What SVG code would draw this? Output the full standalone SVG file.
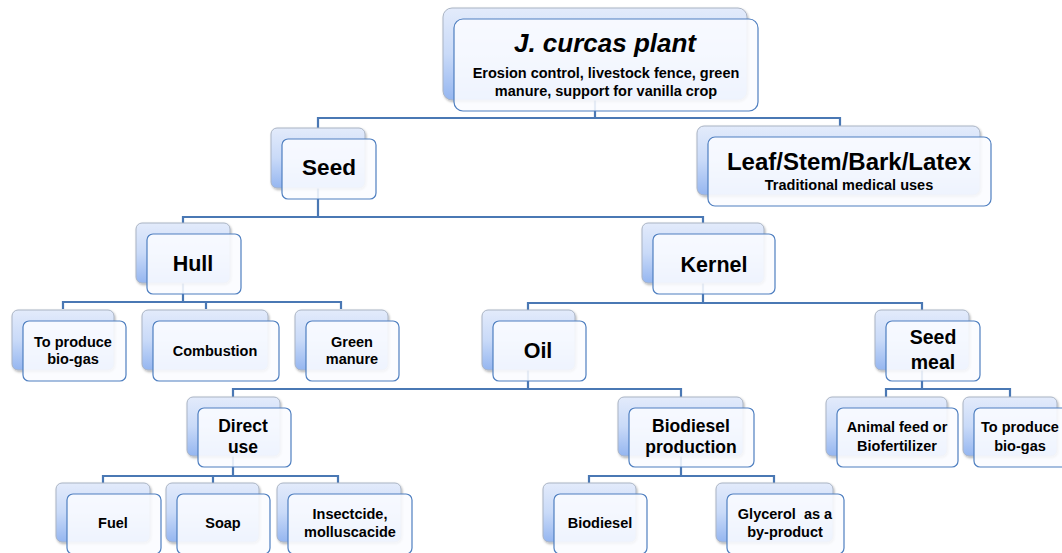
<svg xmlns="http://www.w3.org/2000/svg" width="1062" height="553" viewBox="0 0 1062 553">
<defs>
<linearGradient id="bg" x1="0" y1="0" x2="0" y2="1">
<stop offset="0" stop-color="#e3ebfb"/>
<stop offset="0.5" stop-color="#c9daf8"/>
<stop offset="1" stop-color="#95b6f0"/>
</linearGradient>
<filter id="sh" x="-10%" y="-10%" width="130%" height="130%">
<feDropShadow dx="1" dy="1.5" stdDeviation="1.2" flood-color="#000" flood-opacity="0.3"/>
</filter>
<style>
.b{fill:url(#bg);stroke:#aab4c4;stroke-width:1;filter:url(#sh)}
.f{fill:#fbfcff;fill-opacity:0.88;stroke:#4f7fc0;stroke-width:1.2}
.c{fill:none;stroke:#4a78b4;stroke-width:2.2}
text{font-family:"Liberation Sans",Arial,sans-serif;font-weight:bold;fill:#000;text-anchor:middle}
.s{font-size:14.5px}
.m{font-size:17.5px}
.l{font-size:21.5px}
</style>
</defs>
<rect width="1062" height="553" fill="#fff"/>
<g id="connectors">
<path class="c" d="M595,100V118M318,128V118H840V126"/>
<path class="c" d="M318,188V217M183,223V217H703V223"/>
<path class="c" d="M183,283V302M63,309V302H341V309M206,302V309"/>
<path class="c" d="M703,283V303M528,310V303H922V310"/>
<path class="c" d="M528,370V389M233,397V389H681V397"/>
<path class="c" d="M922,370V389M886,397V389H1010V397"/>
<path class="c" d="M233,456V476M103,483V476H338V483M213,476V483"/>
<path class="c" d="M681,456V476M589,483V476H774V483"/>
</g>
<g id="n-plant">
<rect class="b" x="443" y="8" width="304" height="92" rx="9"/>
<rect class="f" x="454" y="19" width="304" height="92" rx="9"/>
<text x="605" y="52" font-size="26" font-style="italic">J. curcas plant</text>
<text class="s" x="606" y="78">Erosion control, livestock fence, green</text>
<text class="s" x="606" y="96">manure, support for vanilla crop</text>
</g>
<g id="n-seed">
<rect class="b" x="271" y="128" width="94" height="60" rx="6"/>
<rect class="f" x="282" y="139" width="94" height="60" rx="6"/>
<text x="329" y="175" font-size="22.5">Seed</text>
</g>
<g id="n-leaf">
<rect class="b" x="697" y="126" width="283" height="69" rx="7"/>
<rect class="f" x="708" y="137" width="283" height="69" rx="7"/>
<text x="849" y="170" font-size="24">Leaf/Stem/Bark/Latex</text>
<text class="s" x="849" y="190">Traditional medical uses</text>
</g>
<g id="n-hull">
<rect class="b" x="136" y="223" width="94" height="60" rx="6"/>
<rect class="f" x="147" y="234" width="94" height="60" rx="6"/>
<text class="l" x="193" y="271">Hull</text>
</g>
<g id="n-kernel">
<rect class="b" x="642" y="223" width="122" height="60" rx="6"/>
<rect class="f" x="653" y="234" width="122" height="60" rx="6"/>
<text class="l" x="714" y="272">Kernel</text>
</g>
<g id="n-biogas1">
<rect class="b" x="12" y="310" width="102" height="60" rx="6"/>
<rect class="f" x="23" y="321" width="103" height="60" rx="6"/>
<text class="s" x="73" y="347">To produce</text>
<text class="s" x="73" y="364">bio-gas</text>
</g>
<g id="n-combustion">
<rect class="b" x="142" y="310" width="126" height="60" rx="6"/>
<rect class="f" x="153" y="321" width="126" height="60" rx="6"/>
<text class="s" x="215" y="356">Combustion</text>
</g>
<g id="n-green">
<rect class="b" x="295" y="310" width="93" height="60" rx="6"/>
<rect class="f" x="306" y="321" width="93" height="60" rx="6"/>
<text class="s" x="352" y="347">Green</text>
<text class="s" x="352" y="364">manure</text>
</g>
<g id="n-oil">
<rect class="b" x="482" y="310" width="93" height="60" rx="6"/>
<rect class="f" x="493" y="321" width="93" height="60" rx="6"/>
<text class="l" x="538" y="358">Oil</text>
</g>
<g id="n-seedmeal">
<rect class="b" x="875" y="310" width="94" height="60" rx="6"/>
<rect class="f" x="886" y="321" width="94" height="60" rx="6"/>
<text x="933" y="344" font-size="19.5">Seed</text>
<text x="933" y="369" font-size="19.5">meal</text>
</g>
<g id="n-direct">
<rect class="b" x="187" y="397" width="93" height="59" rx="6"/>
<rect class="f" x="198" y="408" width="93" height="59" rx="6"/>
<text class="m" x="243" y="432">Direct</text>
<text class="m" x="243" y="453">use</text>
</g>
<g id="n-biodprod">
<rect class="b" x="618" y="397" width="125" height="59" rx="6"/>
<rect class="f" x="629" y="408" width="125" height="59" rx="6"/>
<text class="m" x="691" y="432">Biodiesel</text>
<text class="m" x="691" y="453">production</text>
</g>
<g id="n-animal">
<rect class="b" x="826" y="397" width="121" height="59" rx="6"/>
<rect class="f" x="837" y="408" width="121" height="59" rx="6"/>
<text class="s" x="897" y="432">Animal feed or</text>
<text class="s" x="897" y="451">Biofertilizer</text>
</g>
<g id="n-biogas2">
<rect class="b" x="963" y="397" width="94" height="59" rx="6"/>
<rect class="f" x="974" y="408" width="94" height="59" rx="6"/>
<text class="s" x="1020" y="432">To produce</text>
<text class="s" x="1020" y="451">bio-gas</text>
</g>
<g id="n-fuel">
<rect class="b" x="56" y="483" width="94" height="59" rx="6"/>
<rect class="f" x="67" y="494" width="94" height="60" rx="6"/>
<text class="s" x="113" y="528">Fuel</text>
</g>
<g id="n-soap">
<rect class="b" x="166" y="483" width="93" height="59" rx="6"/>
<rect class="f" x="177" y="494" width="93" height="60" rx="6"/>
<text class="s" x="223" y="528">Soap</text>
</g>
<g id="n-insect">
<rect class="b" x="277" y="483" width="124" height="59" rx="6"/>
<rect class="f" x="288" y="494" width="124" height="60" rx="6"/>
<text class="s" x="350" y="519">Insectcide,</text>
<text class="s" x="350" y="537">molluscacide</text>
</g>
<g id="n-biodiesel">
<rect class="b" x="543" y="483" width="93" height="59" rx="6"/>
<rect class="f" x="554" y="494" width="93" height="60" rx="6"/>
<text class="s" x="600" y="528">Biodiesel</text>
</g>
<g id="n-glycerol">
<rect class="b" x="716" y="483" width="117" height="59" rx="6"/>
<rect class="f" x="727" y="494" width="117" height="60" rx="6"/>
<text class="s" x="785" y="519">Glycerol&#160; as a</text>
<text class="s" x="785" y="537">by-product</text>
</g>
</svg>
